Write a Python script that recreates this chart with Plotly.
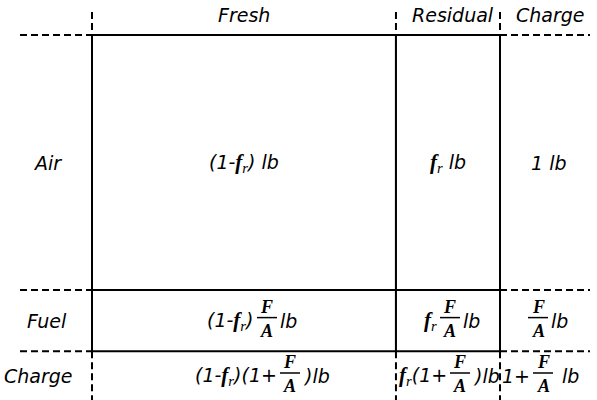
import plotly.graph_objects as go

# Mass fractions
residual_fraction = 0.255   # f_r  -> width of the Residual column (box width = 1)
fuel_air_ratio = 0.24       # F/A  -> height of the Fuel row (Air row = 1)

col_names = ['Fresh', 'Residual', 'Charge']
row_names = ['Air', 'Fuel', 'Charge']
col_widths = [1 - residual_fraction, residual_fraction]
row_heights = [1, fuel_air_ratio]

FR = '<span style="font-family:Liberation Serif;font-size:21px"><b><i>f</i></b><sub>r</sub></span>'
air_text = ['(1-' + FR + ') lb', FR + ' lb', '1 lb']
fuel_text = [('(1-' + FR + ')', 'lb'), (FR, 'lb'), ('', 'lb')]
charge_text = [('(1-' + FR + ')(1+', ')lb'), (FR + '(1+', ')lb'), ('1+', ' lb')]

# Page geometry (pixels) -> data coordinates
W, H = 597, 400
X0, XS = 92, 408      # box left edge, px per unit of x
Y0, YS = 35, 255      # box top edge, px per unit of y


def px_x(p):
    return (p - X0) / XS


def px_y(p):
    return (p - Y0) / YS


TXT = dict(family='DejaVu Sans', size=19, color='black', style='italic')
FRAC = dict(family='Liberation Serif', size=18, color='black', weight='bold', style='italic')

fig = go.Figure()

# Box cells as stacked bars (x: mass split fresh/residual, y: air/fuel)
edges = [0]
for w in col_widths:
    edges.append(edges[-1] + w)
centers = [(a + b) / 2 for a, b in zip(edges[:-1], edges[1:])]
base = 0
for h in row_heights:
    fig.add_bar(x=centers, y=[h] * len(centers), base=[base] * len(centers),
                width=col_widths, marker=dict(color='white', line=dict(color='black', width=2)),
                hoverinfo='skip', showlegend=False)
    base += h
row_edges = [0, 1, 1 + fuel_air_ratio]

dash = dict(color='black', width=2, dash='7px,4px')
# Horizontal dashed leaders on left and right of the box
for y in row_edges:
    fig.add_shape(type='line', x0=px_x(20), x1=edges[0], y0=y, y1=y, line=dash)
    fig.add_shape(type='line', x0=edges[-1], x1=px_x(590), y0=y, y1=y, line=dash)
# Vertical dashed leaders above and below
for x in edges:
    fig.add_shape(type='line', x0=x, x1=x, y0=px_y(12), y1=0, line=dash)
    fig.add_shape(type='line', x0=x, x1=x, y0=row_edges[-1], y1=px_y(400), line=dash)


def label(x, y, text, xanchor='center', xshift=0, yshift=0, font=TXT):
    fig.add_annotation(x=x, y=y, text=text, showarrow=False, xanchor=xanchor,
                       yanchor='middle', xshift=xshift, yshift=yshift, font=font)


def frac_label(x, y, parts, dx):
    left, right = parts
    xc = x + dx / XS
    yb = y - 3 / YS
    fig.add_shape(type='line', x0=xc - 10 / XS, x1=xc + 10 / XS, y0=yb, y1=yb,
                  line=dict(color='black', width=1.5))
    label(xc, yb, 'F', yshift=11, font=FRAC)
    label(xc, yb, 'A', yshift=-13, font=FRAC)
    if left:
        label(xc, y, left, xanchor='right', xshift=-11)
    label(xc, y, right, xanchor='left', xshift=11)


col_x = centers + [px_x(548)]
header_x = [centers[0], centers[1] + px_x(453) - px_x(448), px_x(550)]
for x, name in zip(header_x, col_names):
    label(x, px_y(15), name)

row_y = [0.5, 1 + fuel_air_ratio / 2, px_y(376)]
for y, name, xp in zip(row_y, row_names, [47, 47, 38]):
    label(px_x(xp), y, name)

for x, t in zip(col_x, air_text):
    label(x, row_y[0], t)
for x, t, dx in zip(col_x, fuel_text, [23, 2, -10]):
    frac_label(x, row_y[1], t, dx)
for x, t, dx in zip(col_x, charge_text, [46, 12, -5]):
    frac_label(x, row_y[2], t, dx)

fig.update_layout(
    width=W, height=H, margin=dict(l=0, r=0, t=0, b=0),
    paper_bgcolor='white', plot_bgcolor='white', barmode='overlay',
    xaxis=dict(range=[px_x(0), px_x(W)], visible=False, fixedrange=True),
    yaxis=dict(range=[px_y(H), px_y(0)], visible=False, fixedrange=True),
)

fig.write_html('out.html', config={'displayModeBar': False})

# drop the browser's default page margin so the figure fills the window
with open('out.html', encoding='utf-8') as f:
    page = f.read()
page = page.replace('<body>', '<body style="margin:0;overflow:hidden">', 1)
with open('out.html', 'w', encoding='utf-8') as f:
    f.write(page)
